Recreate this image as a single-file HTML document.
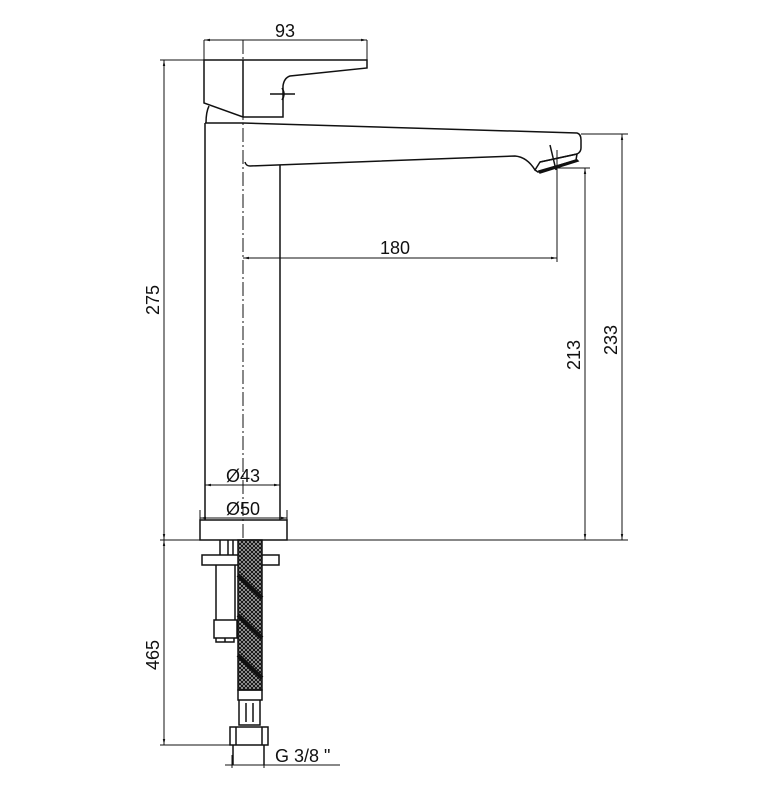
<!DOCTYPE html>
<html><head><meta charset="utf-8"><style>
html,body{margin:0;padding:0;background:#fff}
svg{display:block}
text{font-family:"Liberation Sans",sans-serif;font-size:18px;fill:#111}
</style></head><body>
<svg width="772" height="792" viewBox="0 0 772 792" xmlns="http://www.w3.org/2000/svg">
<defs>
<marker id="a" viewBox="0 0 10 10" refX="10" refY="5" markerWidth="6" markerHeight="6" orient="auto-start-reverse"><path d="M0,3 L10,5 L0,7z" fill="#111"/></marker>
<pattern id="h" width="4" height="4" patternUnits="userSpaceOnUse"><rect width="4" height="4" fill="#bbb"/><path d="M0,0 L2,2 L4,0 M0,4 L2,2 L4,4" stroke="#111" stroke-width="1.1" fill="none"/></pattern>
</defs>
<g stroke="#111" stroke-width="1.5" fill="none">
<!-- handle -->
<path d="M204,60 L367,60 L367,68 L290,76 Q284,78 283,86 L283,117 L243,117 L204,103 Z"/>
<path d="M209,106 Q206,112 206,123"/>
<path d="M243,117 L243,60"/>
<path d="M270,94 L295,94"/>
<path d="M282,88 Q286,94 282,100"/>
<!-- spout and body -->
<path d="M205,123 L243,123 L577,133 Q581,134 581,140 L581,148 Q581,152 577,154 L540,162"/>
<path d="M245,162 Q246,166 250,166 L515,156 Q527,157 535,170"/>
<path d="M535,170 L540,162 L577,154 L576,160 L538,172 Z"/>
<path d="M539,171 L577,160 L578,161 L540,173 Z" fill="#111"/>
<path d="M550,145 L556,170"/>
<path d="M205,123 L205,520"/>
<path d="M280,165 L280,520"/>
<!-- base plate -->
<path d="M200,520 L287,520 L287,540 L200,540 Z"/>
<!-- centerline -->
<path d="M243,40 L243,565" stroke-dasharray="14,3,2,3" stroke-width="1"/>
<!-- dimension lines -->
<g stroke-width="1">
<path d="M204,40 L367,40" marker-start="url(#a)" marker-end="url(#a)"/>
<path d="M204,40 L204,60 M367,40 L367,60"/>
<path d="M160,60 L204,60"/>
<path d="M164,60 L164,540" marker-start="url(#a)" marker-end="url(#a)"/>
<path d="M243,258 L557,258" marker-start="url(#a)" marker-end="url(#a)"/>
<path d="M557,150 L557,262"/>
<path d="M557,168 L590,168"/>
<path d="M585,168 L585,540" marker-start="url(#a)" marker-end="url(#a)"/>
<path d="M581,134 L628,134"/>
<path d="M622,134 L622,540" marker-start="url(#a)" marker-end="url(#a)"/>
<path d="M160,540 L628,540"/>
<path d="M205,485 L280,485" marker-start="url(#a)" marker-end="url(#a)"/>
<path d="M200,518 L287,518" marker-start="url(#a)" marker-end="url(#a)"/>
<path d="M200,510 L200,520 M287,510 L287,520"/>
<path d="M164,540 L164,745" marker-start="url(#a)" marker-end="url(#a)"/>
<path d="M160,745 L232,745"/>
<path d="M225,765 L340,765"/>
<path d="M232,755 L232,768 M264,755 L264,768"/>
</g>
<!-- under parts -->
<path d="M220,540 L220,555 M228,540 L228,555 M233,540 L233,555"/>
<path d="M202,555 L279,555 L279,565 L202,565 Z"/>
<path d="M216,565 L216,620 M235,565 L235,620"/>
<path d="M214,620 L237,620 L237,638 L214,638 Z"/>
<path d="M216,638 L216,642 L234,642 L234,638 M225,638 L225,642"/>
<rect x="238" y="540" width="24" height="150" fill="url(#h)" stroke="#111"/>
<path d="M238,575 L262,598 M238,615 L262,638 M238,655 L262,678" stroke-width="4"/>
<path d="M238,690 L262,690 L262,700 L238,700 Z"/>
<path d="M239,700 L239,725 L260,725 L260,700 M246,703 L246,722 M253,703 L253,722"/>
<path d="M230,727 L268,727 L268,745 L230,745 Z M236,727 L236,745 M262,727 L262,745"/>
<path d="M233,745 L233,765 M264,745 L264,765"/>
</g>
<text x="285" y="37" text-anchor="middle">93</text>
<text x="395" y="254" text-anchor="middle">180</text>
<text x="243" y="482" text-anchor="middle">Ø43</text>
<text x="243" y="515" text-anchor="middle">Ø50</text>
<text x="275" y="762" font-size="17">G 3/8 "</text>
<text transform="translate(159,300) rotate(-90)" text-anchor="middle">275</text>
<text transform="translate(159,655) rotate(-90)" text-anchor="middle">465</text>
<text transform="translate(580,355) rotate(-90)" text-anchor="middle">213</text>
<text transform="translate(617,340) rotate(-90)" text-anchor="middle">233</text>
</svg>
</body></html>
